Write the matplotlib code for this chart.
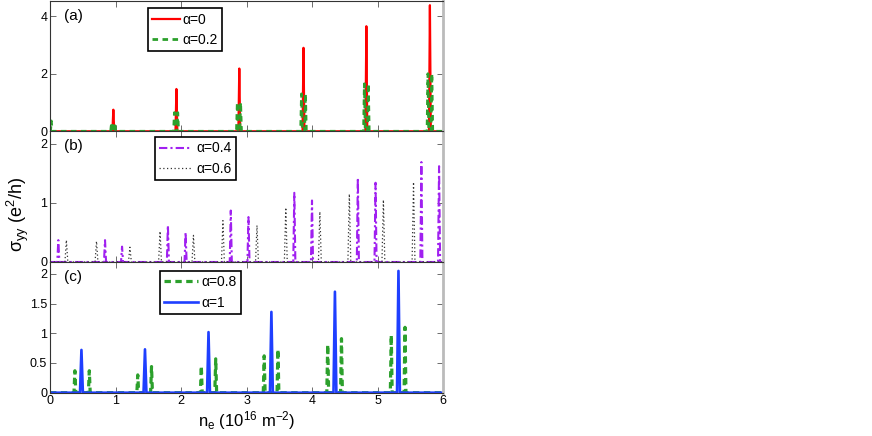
import numpy as np
import matplotlib
matplotlib.use("Agg")
import matplotlib.pyplot as plt

plt.rcParams['font.family'] = ['Liberation Sans', 'DejaVu Sans']
plt.rcParams['mathtext.fontset'] = 'custom'
plt.rcParams['mathtext.rm'] = 'Liberation Sans'
plt.rcParams['mathtext.it'] = 'Liberation Sans:italic'

# ---- data: peak centers (n_e, 1e16 m^-2) and heights (e^2/h) ----
a0_centers = [0.967, 1.93, 2.89, 3.87, 4.83, 5.80]
a0_heights = [0.75, 1.47, 2.18, 2.90, 3.65, 4.38]

a02_centers = [0.02, 0.94, 0.99, 1.90, 1.95, 2.86, 2.91, 3.84, 3.90, 4.80, 4.86, 5.77, 5.83]
a02_heights = [0.36, 0.30, 0.30, 0.65, 0.65, 1.00, 1.00, 1.30, 1.30, 1.65, 1.65, 2.00, 2.00]

a04_centers = [0.127, 0.84, 1.10, 1.80, 2.07, 2.76, 3.03, 3.73, 4.00, 4.70, 4.97, 5.67, 5.94]
a04_heights = [0.37, 0.37, 0.26, 0.62, 0.50, 0.87, 0.76, 1.17, 1.04, 1.42, 1.34, 1.69, 1.62]

a06_centers = [0.25, 0.71, 1.22, 1.68, 2.19, 2.64, 3.16, 3.60, 4.12, 4.57, 5.09, 5.55]
a06_heights = [0.37, 0.35, 0.25, 0.52, 0.45, 0.70, 0.62, 0.92, 0.85, 1.15, 1.05, 1.35]

a08_centers = [0.38, 0.60, 1.34, 1.55, 2.31, 2.53, 3.27, 3.48, 4.24, 4.45, 5.21, 5.42]
a08_heights = [0.37, 0.37, 0.30, 0.44, 0.45, 0.57, 0.62, 0.73, 0.81, 0.91, 0.97, 1.10]

a1_centers = [0.48, 1.45, 2.42, 3.38, 4.35, 5.32]
a1_heights = [0.72, 0.73, 1.02, 1.36, 1.70, 2.05]

x_ticks = [0, 1, 2, 3, 4, 5, 6]


def peaks(centers, heights, hw):
    xs = [0.0]
    ys = [0.0]
    for c, h in zip(centers, heights):
        xs += [c - hw, c, c + hw]
        ys += [0.0, h, 0.0]
    xs.append(6.0)
    ys.append(0.0)
    return xs, ys


fig = plt.figure(figsize=(8.72, 4.36), dpi=100)
L = 50 / 872
W = 393 / 872
H = 130.7 / 436
b_c = (436 - 392.7) / 436
axes = [fig.add_axes([L, b_c + 2 * H, W, H]),
        fig.add_axes([L, b_c + H, W, H]),
        fig.add_axes([L, b_c, W, H])]

green = '#2ca02c'
leg_kw = dict(loc='upper left', borderaxespad=0, fontsize=10, fancybox=False,
              edgecolor='black', framealpha=1, borderpad=0.3, labelspacing=0.45)

ax = axes[0]
x, y = peaks(a0_centers, a0_heights, 0.014)
ax.plot(x, y, color='#ff0000', lw=1.6, label='α=0')
x, y = peaks(a02_centers, a02_heights, 0.013)
ax.plot(x, y, color=green, lw=2.0, ls=(0, (2.0, 1.6)), label='α=0.2')
ax.set_ylim(0, 4.54)
ax.set_yticks([0, 2, 4])
lg = ax.legend(bbox_to_anchor=(0.249, 0.94), handlelength=2.0, handletextpad=0.2, **leg_kw)
lg.get_frame().set_linewidth(1.2)

ax = axes[1]
x, y = peaks(a04_centers, a04_heights, 0.016)
ax.plot(x, y, color='#a020f0', lw=1.5, ls=(0, (4, 1.5, 1, 1.5)), label='α=0.4')
x, y = peaks(a06_centers, a06_heights, 0.022)
ax.plot(x, y, color='#333333', lw=0.9, ls=(0, (1, 2)), label='α=0.6')
ax.set_ylim(0, 2.21)
ax.set_yticks([0, 1, 2])
lg = ax.legend(bbox_to_anchor=(0.267, 0.954), handlelength=2.4, handletextpad=0.3, **leg_kw)
lg.get_frame().set_linewidth(1.2)

ax = axes[2]
x, y = peaks(a08_centers, a08_heights, 0.014)
ax.plot(x, y, color=green, lw=2.3, ls=(0, (2.0, 1.4)), label='α=0.8')
x, y = peaks(a1_centers, a1_heights, 0.022)
ax.plot(x, y, color='#1f3fff', lw=1.9, label='α=1')
ax.set_ylim(0, 2.2)
ax.set_yticks([0, 0.5, 1, 1.5, 2])
ax.set_yticklabels(['0', '0.5', '1', '1.5', '2'])
lg = ax.legend(bbox_to_anchor=(0.28, 0.93), handlelength=2.4, handletextpad=0.3, **leg_kw)
lg.get_frame().set_linewidth(1.2)
ax.set_xlabel(r'n$_\mathregular{e}$ (10$^\mathregular{16}$ m$^\mathregular{-2}$)', fontsize=12, labelpad=1)

for i, (ax, lab) in enumerate(zip(axes, ['(a)', '(b)', '(c)'])):
    ax.set_xlim(0, 6)
    ax.set_xticks(x_ticks)
    if i < 2:
        ax.set_xticklabels([])
    ax.tick_params(direction='in', top=True, right=True, length=4, width=0.6,
                   labelsize=9, pad=2, colors='#555555', labelcolor='black')
    for s in ['left', 'bottom', 'top']:
        ax.spines[s].set_color('#333333')
        ax.spines[s].set_linewidth(0.8)
    ax.spines['right'].set_color('#bbbbbb')
    ax.spines['right'].set_linewidth(2)
    ax.text(0.035, 0.885, lab, transform=ax.transAxes, fontsize=11, va='center', ha='left')

fig.text(18 / 872, 1 - 215 / 436, r'$\mathregular{\sigma_{yy}}$ (e$^\mathregular{2}$/h)',
         rotation=90, fontsize=13, va='center', ha='center')

fig.savefig('out.png', dpi=100)
